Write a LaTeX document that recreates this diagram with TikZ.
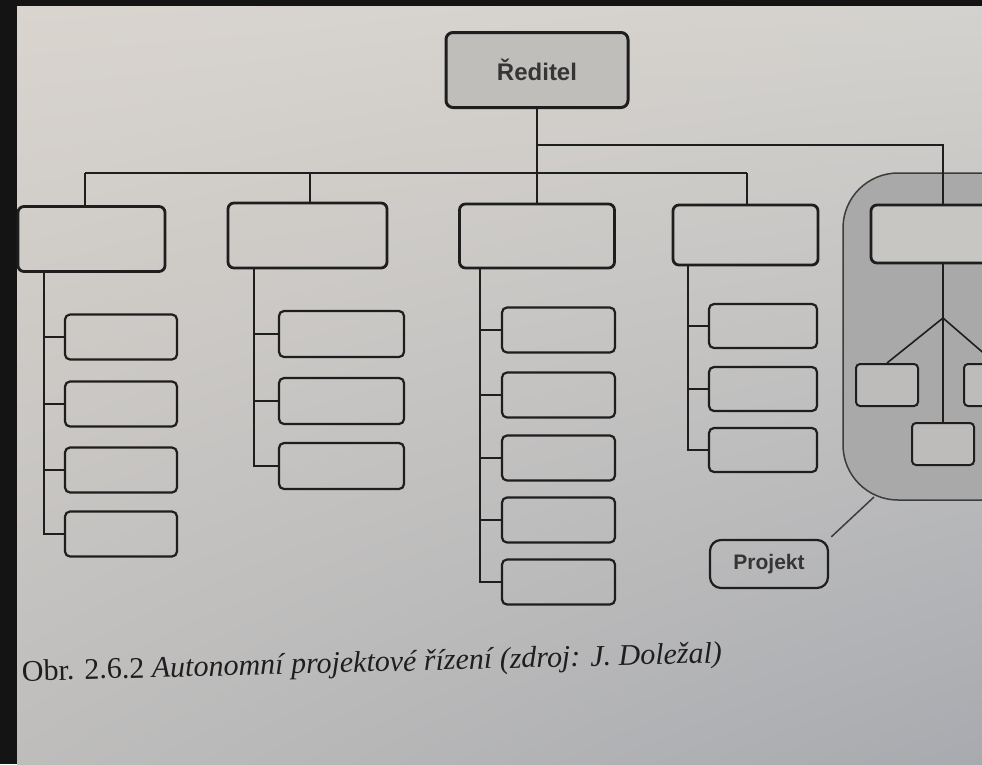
\documentclass[tikz,border=0pt]{standalone}
\usepackage{fontspec}
\usetikzlibrary{shadings}
\setmainfont{Liberation Serif}
\newfontfamily\arialfont{Liberation Sans}
\definecolor{ink}{HTML}{1E1E1E}
\definecolor{pageTL}{HTML}{D9D4CE}
\definecolor{pageTR}{HTML}{D4D2CE}
\definecolor{pageBL}{HTML}{BEBDBC}
\definecolor{pageBR}{HTML}{A8AAAF}
\definecolor{redfill}{HTML}{C0BEBB}
\definecolor{lozfill}{HTML}{A9A9A9}
\definecolor{lozline}{HTML}{3C3C3C}
\definecolor{b5fill}{HTML}{C8C6C3}
\definecolor{smallfill}{HTML}{BDBCBB}
\begin{document}
\begin{tikzpicture}[x=1pt,y=-1pt,
  conn/.style={draw=ink, line width=1.6pt},
  topbox/.style={draw=ink, line width=2.8pt, rounded corners=6pt, inner sep=0pt},
  subbox/.style={draw=ink, line width=2.2pt, rounded corners=5pt, inner sep=0pt},
  redbox/.style={draw=ink, fill=redfill, line width=3pt, rounded corners=7pt, inner sep=0pt,
    font=\arialfont\bfseries\fontsize{24}{28}\selectfont, text=ink!90},
  lozenge/.style={draw=lozline, fill=lozfill, line width=1.5pt, rounded corners=55pt, inner sep=0pt},
  smallbox/.style={draw=ink, fill=smallfill, line width=2pt, rounded corners=4pt, inner sep=0pt,
    minimum width=62pt, minimum height=42pt},
  pbox/.style={draw=ink, line width=2.2pt, rounded corners=11pt, inner sep=0pt,
    font=\arialfont\bfseries\fontsize{21}{25}\selectfont, text=ink!90}
]
\useasboundingbox (0,0) rectangle (982,764);
\clip (0,0) rectangle (982,764);
% photo edge and page
\fill[black!92] (0,0) rectangle (982,764);
\shade[upper left=pageTL, upper right=pageTR, lower left=pageBL, lower right=pageBR]
  (17,6) rectangle (982,764);

% project area
\node[lozenge, minimum width=220pt, minimum height=327pt] (proj) at (953,336.5) {};

% director
\node[redbox, minimum width=182pt, minimum height=75pt] (red) at (537,70) {Ředitel};

% top-level units
\node[topbox, minimum width=147pt, minimum height=65pt] (b1) at (91.5,239) {};
\node[topbox, minimum width=159pt, minimum height=65pt] (b2) at (307.5,235.5) {};
\node[topbox, minimum width=155pt, minimum height=64pt] (b3) at (537,236) {};
\node[topbox, minimum width=145pt, minimum height=60pt] (b4) at (745.5,235) {};
\node[topbox, fill=b5fill, minimum width=144pt, minimum height=58pt] (b5) at (943,234) {};

% bus coordinates
\coordinate (j1) at (85,173);
\coordinate (j2) at (310,173);
\coordinate (j4) at (747,173);
\coordinate (jr) at (537,145);

\draw[conn] (red.south) -- (b3.north);
\draw[conn] (j1) -- (j4);
\draw[conn] (j1) -- (j1 |- b1.north);
\draw[conn] (j2) -- (j2 |- b2.north);
\draw[conn] (j4) -- (j4 |- b4.north);
\draw[conn] (jr) -| (b5.north);

% column 1
\coordinate (v1) at (44,271.5);
\foreach \n/\y in {a/337,b/404,c/470,d/534}{
  \node[subbox, minimum width=112pt, minimum height=45pt] (s1\n) at (121,\y) {};
  \draw[conn] (v1) |- (s1\n.west);
}
% column 2
\coordinate (v2) at (254,268);
\foreach \n/\y in {a/334,b/401,c/466}{
  \node[subbox, minimum width=125pt, minimum height=46pt] (s2\n) at (341.5,\y) {};
  \draw[conn] (v2) |- (s2\n.west);
}
% column 3
\coordinate (v3) at (480,268);
\foreach \n/\y in {a/330,b/395,c/458,d/520,e/582}{
  \node[subbox, minimum width=113pt, minimum height=45pt] (s3\n) at (558.5,\y) {};
  \draw[conn] (v3) |- (s3\n.west);
}
% column 4
\coordinate (v4) at (688,265);
\foreach \n/\y in {a/326,b/389,c/450}{
  \node[subbox, minimum width=108pt, minimum height=44pt] (s4\n) at (763,\y) {};
  \draw[conn] (v4) |- (s4\n.west);
}

% inside the project
\node[smallbox] (pl) at (887,385) {};
\node[smallbox] (pr) at (995,385) {};
\node[smallbox] (pm) at (943,444) {};
\coordinate (fork) at (943,318);
\draw[conn] (b5.south) -- (pm.north);
\draw[conn] (fork) -- (pl.north);
\draw[conn] (fork) -- (pr.north);

% Projekt label
\node[pbox, minimum width=118pt, minimum height=48pt] (pj) at (769,564) {Projekt};
\coordinate (lz) at (874,497);
\draw[draw=lozline, line width=1.5pt, shorten <=3pt] (pj.north east) -- (lz);

% caption
\node[anchor=base west, rotate=1.5, inner sep=0pt, text=ink,
  font=\fontsize{30}{34}\selectfont] (cap) at (22,681)
  {Obr. 2.6.2 \textit{Autonomní projektové řízení (zdroj: J. Doležal)}};
\end{tikzpicture}
\end{document}
